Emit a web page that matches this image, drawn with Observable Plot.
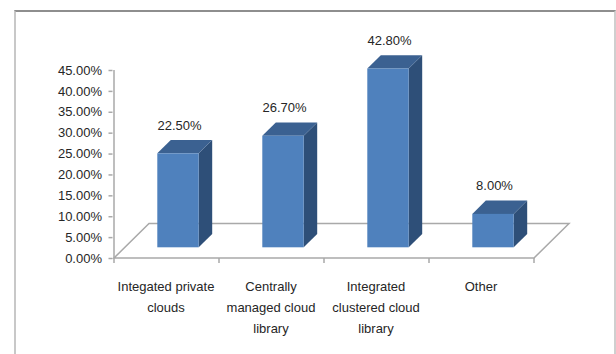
<!DOCTYPE html>
<html><head><meta charset="utf-8">
<script src="https://cdn.jsdelivr.net/npm/d3@7"></script>
<script src="https://cdn.jsdelivr.net/npm/@observablehq/plot@0.6"></script>
<style>
html,body{margin:0;padding:0;background:#fff;}
#wrap{position:relative;width:616px;height:354px;overflow:hidden;}
#frame{position:absolute;left:14px;top:10px;width:598px;height:400px;border-top:2px solid #8e8e8e;border-left:2px solid #c8c8c8;border-right:2px solid #cfcfcf;pointer-events:none;}
svg{display:block;}
</style></head><body><div id="wrap"><div id="chart"></div><div id="frame"></div></div>
<script>
const categories = ["Integated private clouds","Centrally managed cloud library","Integrated clustered cloud library","Other"];
const axisLabels = ["Integated private\nclouds","Centrally\nmanaged cloud\nlibrary","Integrated\nclustered cloud\nlibrary","Other"];
const values = [22.5, 26.7, 42.8, 8.0];
const valueLabels = ["22.50%","26.70%","42.80%","8.00%"];
const yTicks = [0,5,10,15,20,25,30,35,40,45];

const data = categories.map((c,i)=>({category:c, value:values[i], label:valueLabels[i], axisLabel:axisLabels[i]}));

const FONT = "'Liberation Sans',Arial,sans-serif";
const FS = 13;
const BAR_DX = 11.5, BAR_DY = -10.7;     // bar plane offset from the front plane
const DEP_X = 13.5, DEP_Y = -13.3;       // bar depth
const FLOOR_X = 35, FLOOR_Y = -34.5;     // floor depth
const INSET = 31.8;
const FRONT = "#4F81BD", TOP = "#3B6191", SIDE = "#2E4F78";
const GRID = "#a9a9a9";
const TEXT = "#262626";
const ns = "http://www.w3.org/2000/svg";
function el(tag, attrs){const e=document.createElementNS(ns,tag);for(const k in attrs)e.setAttribute(k,attrs[k]);return e;}
function bandStep(sx){
  if (typeof sx.bandwidth === "function") return sx.bandwidth();
  if (typeof sx.bandwidth === "number") return sx.bandwidth;
  return sx(categories[1]) - sx(categories[0]);
}

// floor, y axis line and category tick marks
function floorMark(index, scales){
  const sx = scales.x, sy = scales.y;
  const bw = bandStep(sx);
  const x0 = sx(categories[0]), x1 = sx(categories[categories.length-1]) + bw;
  const y0 = sy(0), yTop = sy(d3.max(yTicks));
  const g = el("g", {fill:"none", stroke:GRID, "stroke-width":1.5});
  g.appendChild(el("path", {d:`M${x0},${y0}L${x1},${y0}L${x1+FLOOR_X},${y0+FLOOR_Y}L${x0+FLOOR_X},${y0+FLOOR_Y}Z`}));
  g.appendChild(el("path", {d:`M${x0},${yTop}V${y0}`}));
  const edges = categories.map(c => sx(c)).concat([x1]);
  for (const e of edges) g.appendChild(el("path", {d:`M${e},${y0}V${y0+5}`}));
  return g;
}

// side and top faces of the 3D bars
function faceMark(index, scales){
  const sx = scales.x, sy = scales.y;
  const bw = bandStep(sx);
  const g = el("g", {});
  for (const d of data){
    const left = sx(d.category) + INSET + BAR_DX;
    const right = sx(d.category) + bw - INSET + BAR_DX;
    const top = sy(d.value) + BAR_DY, bot = sy(0) + BAR_DY;
    g.appendChild(el("path", {fill:SIDE, d:`M${right},${bot}L${right+DEP_X},${bot+DEP_Y}L${right+DEP_X},${top+DEP_Y}L${right},${top}Z`}));
    g.appendChild(el("path", {fill:TOP, d:`M${left},${top}L${right},${top}L${right+DEP_X},${top+DEP_Y}L${left+DEP_X},${top+DEP_Y}Z`}));
  }
  return g;
}

const chart = Plot.plot({
  width: 616,
  height: 354,
  marginLeft: 112.5,
  marginRight: 81,
  marginTop: 70,
  marginBottom: 96,
  style: {fontFamily: FONT, fontSize: FS + "px", color: TEXT, background: "transparent"},
  x: {domain: categories, padding: 0, axis: null},
  y: {domain: [0, 45], axis: null},
  marks: [
    floorMark,
    Plot.axisY({ticks: yTicks, tickFormat: d => d.toFixed(2) + "%", tickSize: 4, tickPadding: 7, stroke: GRID, strokeWidth: 1.5, fontSize: FS, fill: TEXT, label: null}),
    faceMark,
    Plot.barY(data, {x: "category", y: "value", fill: FRONT, insetLeft: INSET, insetRight: INSET, dx: BAR_DX, dy: BAR_DY}),
    Plot.text(data, {x: "category", y: "value", text: "label", dx: 12.5, dy: -39, fontSize: FS, fill: TEXT}),
    Plot.text(data, {x: "category", text: "axisLabel", frameAnchor: "bottom", lineAnchor: "top", dy: 18, dx: -1, lineHeight: 1.59, fontSize: FS, fill: TEXT})
  ]
});
document.getElementById("chart").appendChild(chart);
</script>
</body></html>
